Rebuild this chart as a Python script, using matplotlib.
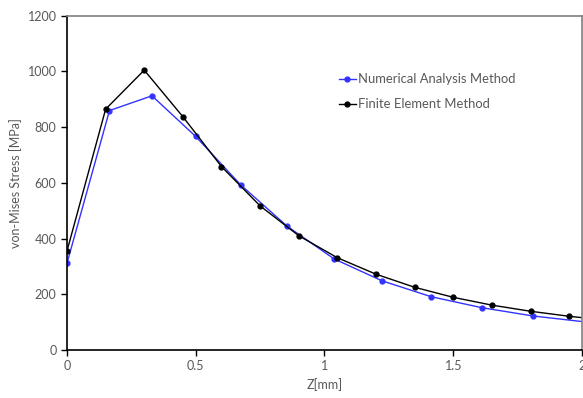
import numpy as np
import matplotlib
matplotlib.use("Agg")
import matplotlib.pyplot as plt

# valores
z_nam = [0, 0.165, 0.33, 0.5, 0.675, 0.855, 1.037, 1.224, 1.415, 1.61, 1.81, 2.02]
s_nam = [311, 859, 912, 766, 592, 444, 327, 248, 191, 152, 122, 100]
z_fem = [0, 0.15, 0.3, 0.45, 0.6, 0.75, 0.9, 1.05, 1.2, 1.35, 1.5, 1.65, 1.8, 1.95, 2.1]
s_fem = [355, 864, 1004, 837, 658, 517, 410, 331, 272, 225, 189, 161, 139, 121, 106]

xticks = [0, 0.5, 1, 1.5, 2]
xticklabels = ["0", "0.5", "1", "1.5", "2"]
yticks = [0, 200, 400, 600, 800, 1000, 1200]

plt.rcParams['font.family'] = ['Lato', 'DejaVu Sans']
gris = '#595959'

fig = plt.figure(figsize=(5.83, 3.98), dpi=100)
ax = fig.add_axes([0.1149, 0.1206, 0.8834, 0.8404])

ax.plot(z_nam, s_nam, color='#3333ff', lw=1, marker='o', ms=3.5, label='Numerical Analysis Method')
ax.plot(z_fem, s_fem, color='black', lw=1, marker='o', ms=3.5, label='Finite Element Method')

ax.set_xlim(0, 2)
ax.set_ylim(0, 1200)
ax.set_xticks(xticks)
ax.set_xticklabels(xticklabels)
ax.set_yticks(yticks)
ax.tick_params(colors=gris, labelsize=9, length=4, width=1)
ax.tick_params(axis='both', color='black')

ax.spines['left'].set_color('black')
ax.spines['bottom'].set_color('black')
ax.spines['top'].set_color('#808080')
ax.spines['right'].set_color('#808080')
for s in ax.spines.values():
    s.set_linewidth(1.2)

ax.set_xlabel('Z[mm]', color=gris, fontsize=9)
ax.set_ylabel('von-Mises Stress [MPa]', color=gris, fontsize=9)

leg = ax.legend(loc='upper left', bbox_to_anchor=(0.505, 0.863), frameon=False,
                fontsize=9.4, handlelength=1.3, handletextpad=0.2, labelspacing=1.0,
                labelcolor=gris)

fig.savefig('out.png', dpi=100)
